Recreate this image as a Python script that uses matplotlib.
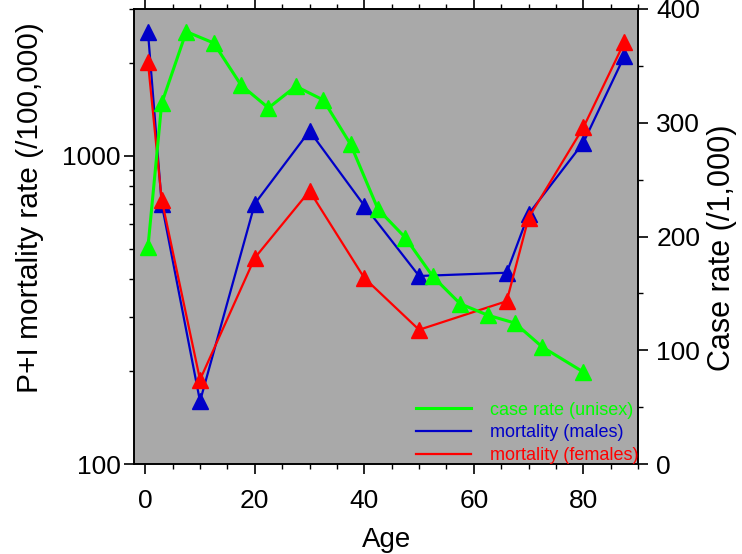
import matplotlib
matplotlib.use("Agg")
import matplotlib.pyplot as plt
from matplotlib.ticker import LogLocator, MultipleLocator, NullFormatter, FixedLocator, FixedFormatter

#### DATA #####
# mortality, left log axis (/100,000)
male_age = [0.5, 3, 10, 20, 30, 40, 50, 66, 70, 80, 87.5]
male_rate = [2520, 700, 160, 700, 1205, 690, 408, 418, 648, 1105, 2110]
female_age = [0.5, 3, 10, 20, 30, 40, 50, 66, 70, 80, 87.5]
female_rate = [2010, 722, 188, 467, 770, 402, 273, 338, 630, 1237, 2340]
# case rate, right linear axis (/1,000)
case_age = [0.5, 3, 7.5, 12.5, 17.5, 22.5, 27.5, 32.5, 37.5, 42.5, 47.5,
            52.5, 57.5, 62.5, 67.5, 72.5, 80]
case_rate = [191, 317, 380, 370, 333, 313, 332, 320, 281, 224, 199,
             165, 141, 131, 124, 103, 81]

GREEN = "#00ff00"
BLUE = "#0000c8"
RED = "#ff0000"

plt.rcParams['font.family'] = ['Liberation Sans', 'DejaVu Sans']

##### Figure setup #####
fig = plt.figure(figsize=(7.42, 5.54), dpi=100)
ax = fig.add_axes([0.181, 0.162, 0.679, 0.822])
ax.set_facecolor("#a9a9a9")
ax2 = ax.twinx()

ax.plot(male_age, male_rate, color=BLUE, lw=1.6, marker="^", ms=11,
        label="mortality (males)", zorder=3)
ax.plot(female_age, female_rate, color=RED, lw=1.6, marker="^", ms=11,
        label="mortality (females)", zorder=3)
ax2.plot(case_age, case_rate, color=GREEN, lw=2.2, marker="^", ms=11,
         label="case rate (unisex)")

##### Axes #####
ax.set_yscale("log")
ax.set_xlim(-2, 90)
ax.set_ylim(100, 3000)
ax2.set_ylim(0, 400)

ax.yaxis.set_major_locator(FixedLocator([100, 1000]))
ax.yaxis.set_major_formatter(FixedFormatter(["100", "1000"]))
ax.yaxis.set_minor_locator(LogLocator(base=10, subs=range(2, 10)))
ax.yaxis.set_minor_formatter(NullFormatter())
ax.xaxis.set_major_locator(MultipleLocator(20))
ax.xaxis.set_minor_locator(MultipleLocator(5))
ax2.yaxis.set_major_locator(MultipleLocator(100))
ax2.yaxis.set_minor_locator(MultipleLocator(50))

for a in (ax, ax2):
    a.tick_params(which="major", direction="out", length=7, width=1.2,
                  labelsize=19, pad=6)
    a.tick_params(which="minor", direction="out", length=3.5, width=1.0)
    for s in a.spines.values():
        s.set_linewidth(1.2)
ax.tick_params(which="both", top=True)
ax.tick_params(axis="x", which="major", pad=11)
ax.tick_params(axis="y", which="major", pad=3)
ax2.tick_params(axis="x", which="both", top=False, bottom=False,
                labelbottom=False)

ax.set_xlabel("Age", fontsize=20, labelpad=10)
ax.set_ylabel("P+I mortality rate (/100,000)", fontsize=21.5)
ax.yaxis.set_label_coords(-0.18, 0.563)
ax2.set_ylabel("Case rate (/1,000)", fontsize=22)
ax2.yaxis.set_label_coords(1.136, 0.475)

##### Legend #####
h1, l1 = ax.get_legend_handles_labels()
h2, l2 = ax2.get_legend_handles_labels()
handles = h2 + h1
labels = l2 + l1
leg = ax2.legend(handles, labels, loc="lower right", frameon=False,
                 fontsize=13, handlelength=3.0, handletextpad=1.05,
                 labelspacing=0.32, borderaxespad=0.0, borderpad=0.0,
                 labelcolor=[GREEN, BLUE, RED])
for line in leg.get_lines():
    line.set_marker("")

fig.savefig("out.png", dpi=100)
